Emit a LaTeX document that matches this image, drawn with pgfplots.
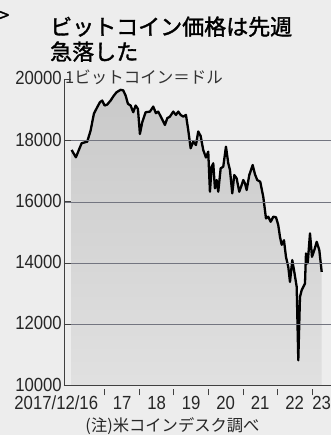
\documentclass[border=0pt]{standalone}
\usepackage{pgfplots}
\pgfplotsset{compat=1.18}
\usepackage{fontspec}
\setmainfont{Noto Sans CJK JP}
\newfontfamily\titlefont[FakeBold=1.6]{Noto Sans CJK JP}
\newfontfamily\numfont[FakeStretch=0.88]{Liberation Sans}
\definecolor{paper}{gray}{0.93}
\definecolor{areatop}{gray}{0.79}
\definecolor{areabot}{gray}{0.88}
\definecolor{gridc}{rgb}{0.45,0.46,0.50}
\begin{document}
\begin{tikzpicture}
\fill[paper] (-64pt,-49.3pt) rectangle (267pt,385.7pt);
\path[use as bounding box] (-64pt,-49.3pt) rectangle (267pt,385.7pt);
\begin{axis}[
  at={(0pt,0pt)}, anchor=south west,
  scale only axis, width=267pt, height=306.3pt,
  xmin=15.8145, xmax=23.551, ymin=10000, ymax=20000,
  axis x line=bottom, axis y line=left,
  axis on top,
  axis line style={-, line width=0.9pt, black!75},
  ytick={12000,14000,16000,18000},
  extra y ticks={10000,20000},
  extra y tick style={grid=none},
  ymajorgrids, grid style={gridc, line width=0.8pt},
  ytick align=inside, major tick length=6.5pt,
  ytick style={draw=black!75, line width=0.9pt},
  yticklabel style={font=\numfont\fontsize{19}{19}\selectfont, anchor=east, inner sep=0pt, xshift=-2pt, yshift=1pt, text=black!85},
  /pgf/number format/assume math mode=true,
  scaled y ticks=false,
  yticklabel={\pgfmathprintnumber[fixed,1000 sep={}]{\tick}},
  xtick={17,18,19,20,21,22,23},
  xticklabels={},
  xtick style={draw=black!75, line width=0.9pt, yshift=-6.5pt},
  extra x ticks={16.5,17.5,18.5,19.5,20.5,21.5,22.5,23.28},
  extra x tick labels={,17,18,19,20,21,22,23},
  extra x tick style={major tick length=0pt, xticklabel style={font=\numfont\fontsize{19}{19}\selectfont, anchor=base, inner sep=0pt, yshift=-23.8pt, text=black!85}},
  clip=true,
]
\addplot[draw=none, top color=areatop, bottom color=areabot] coordinates {
(16.035,17696) (16.159,17457) (16.325,17915) (16.487,17967) (16.585,18327)
(16.681,18883) (16.777,19092) (16.855,19255) (16.922,19310) (16.991,19147)
(17.067,19179) (17.165,19310) (17.261,19474) (17.339,19582) (17.455,19660)
(17.530,19642) (17.600,19474) (17.667,19202) (17.745,19147) (17.820,18928)
(17.890,19147) (17.957,19038) (18.014,18218) (18.081,18601) (18.180,18928)
(18.304,18948) (18.400,19112) (18.478,18896) (18.545,18948) (18.643,18732)
(18.739,18513) (18.806,18732) (18.884,18785) (18.980,18948) (19.058,18840)
(19.125,18948) (19.194,18840) (19.270,18785) (19.348,18840) (19.414,18350)
(19.484,17751) (19.559,17967) (19.638,17859) (19.704,18300) (19.774,18150)
(19.849,17696) (19.928,17450) (19.994,17640) (20.043,16332) (20.093,17150)
(20.139,17261) (20.188,16443) (20.238,16715) (20.284,16332) (20.354,17097)
(20.429,17150) (20.507,17804) (20.574,17261) (20.623,17042) (20.690,16280)
(20.748,16878) (20.817,16770) (20.893,16332) (20.962,16551) (21.009,16715)
(21.058,16607) (21.107,16388) (21.183,16878) (21.281,17205) (21.348,16900)
(21.414,16715) (21.501,16659) (21.588,16169) (21.667,15462) (21.733,15517)
(21.803,15351) (21.878,15517) (21.957,15500) (22.023,15243) (22.072,14861)
(22.122,14600) (22.188,14750) (22.246,14207) (22.313,13880) (22.362,13389)
(22.429,14099) (22.487,13716) (22.557,13226) (22.603,10829) (22.652,12899)
(22.701,13118) (22.748,13226) (22.797,13337) (22.826,14318) (22.875,13991)
(22.942,14972) (23.000,14207) (23.067,14426) (23.136,14697) (23.212,14426)
(23.281,13716)
} \closedcycle;
\addplot[black, line width=2.3pt, line join=round] coordinates {
(16.035,17696) (16.159,17457) (16.325,17915) (16.487,17967) (16.585,18327)
(16.681,18883) (16.777,19092) (16.855,19255) (16.922,19310) (16.991,19147)
(17.067,19179) (17.165,19310) (17.261,19474) (17.339,19582) (17.455,19660)
(17.530,19642) (17.600,19474) (17.667,19202) (17.745,19147) (17.820,18928)
(17.890,19147) (17.957,19038) (18.014,18218) (18.081,18601) (18.180,18928)
(18.304,18948) (18.400,19112) (18.478,18896) (18.545,18948) (18.643,18732)
(18.739,18513) (18.806,18732) (18.884,18785) (18.980,18948) (19.058,18840)
(19.125,18948) (19.194,18840) (19.270,18785) (19.348,18840) (19.414,18350)
(19.484,17751) (19.559,17967) (19.638,17859) (19.704,18300) (19.774,18150)
(19.849,17696) (19.928,17450) (19.994,17640) (20.043,16332) (20.093,17150)
(20.139,17261) (20.188,16443) (20.238,16715) (20.284,16332) (20.354,17097)
(20.429,17150) (20.507,17804) (20.574,17261) (20.623,17042) (20.690,16280)
(20.748,16878) (20.817,16770) (20.893,16332) (20.962,16551) (21.009,16715)
(21.058,16607) (21.107,16388) (21.183,16878) (21.281,17205) (21.348,16900)
(21.414,16715) (21.501,16659) (21.588,16169) (21.667,15462) (21.733,15517)
(21.803,15351) (21.878,15517) (21.957,15500) (22.023,15243) (22.072,14861)
(22.122,14600) (22.188,14750) (22.246,14207) (22.313,13880) (22.362,13389)
(22.429,14099) (22.487,13716) (22.557,13226) (22.603,10829) (22.652,12899)
(22.701,13118) (22.748,13226) (22.797,13337) (22.826,14318) (22.875,13991)
(22.942,14972) (23.000,14207) (23.067,14426) (23.136,14697) (23.212,14426)
(23.281,13716)
};
\end{axis}
\node[anchor=base east, inner sep=0pt, font=\numfont\fontsize{19}{19}\selectfont, text=black!85] at (34.3pt,-23.8pt) {2017/12/16};
\node[anchor=base west, inner sep=0pt, font=\titlefont\fontsize{22}{22}\selectfont] at (-14pt,350.7pt) {ビットコイン価格は先週};
\node[anchor=base west, inner sep=0pt, font=\titlefont\fontsize{22}{22}\selectfont] at (-14pt,325.7pt) {急落した};
\node[anchor=base west, inner sep=0pt, font=\fontsize{16.5}{16.5}\selectfont, text=black!80] at (1pt,302pt) {1ビットコイン＝ドル};
\node[anchor=base, inner sep=0pt, font=\fontsize{16.3}{16.3}\selectfont, text=black!85] at (108.5pt,-45.3pt) {(注)米コインデスク調べ};
\node[anchor=base west, inner sep=0pt, font=\titlefont\fontsize{18}{18}\selectfont] at (-65pt,364pt) {>};
\end{tikzpicture}
\end{document}
